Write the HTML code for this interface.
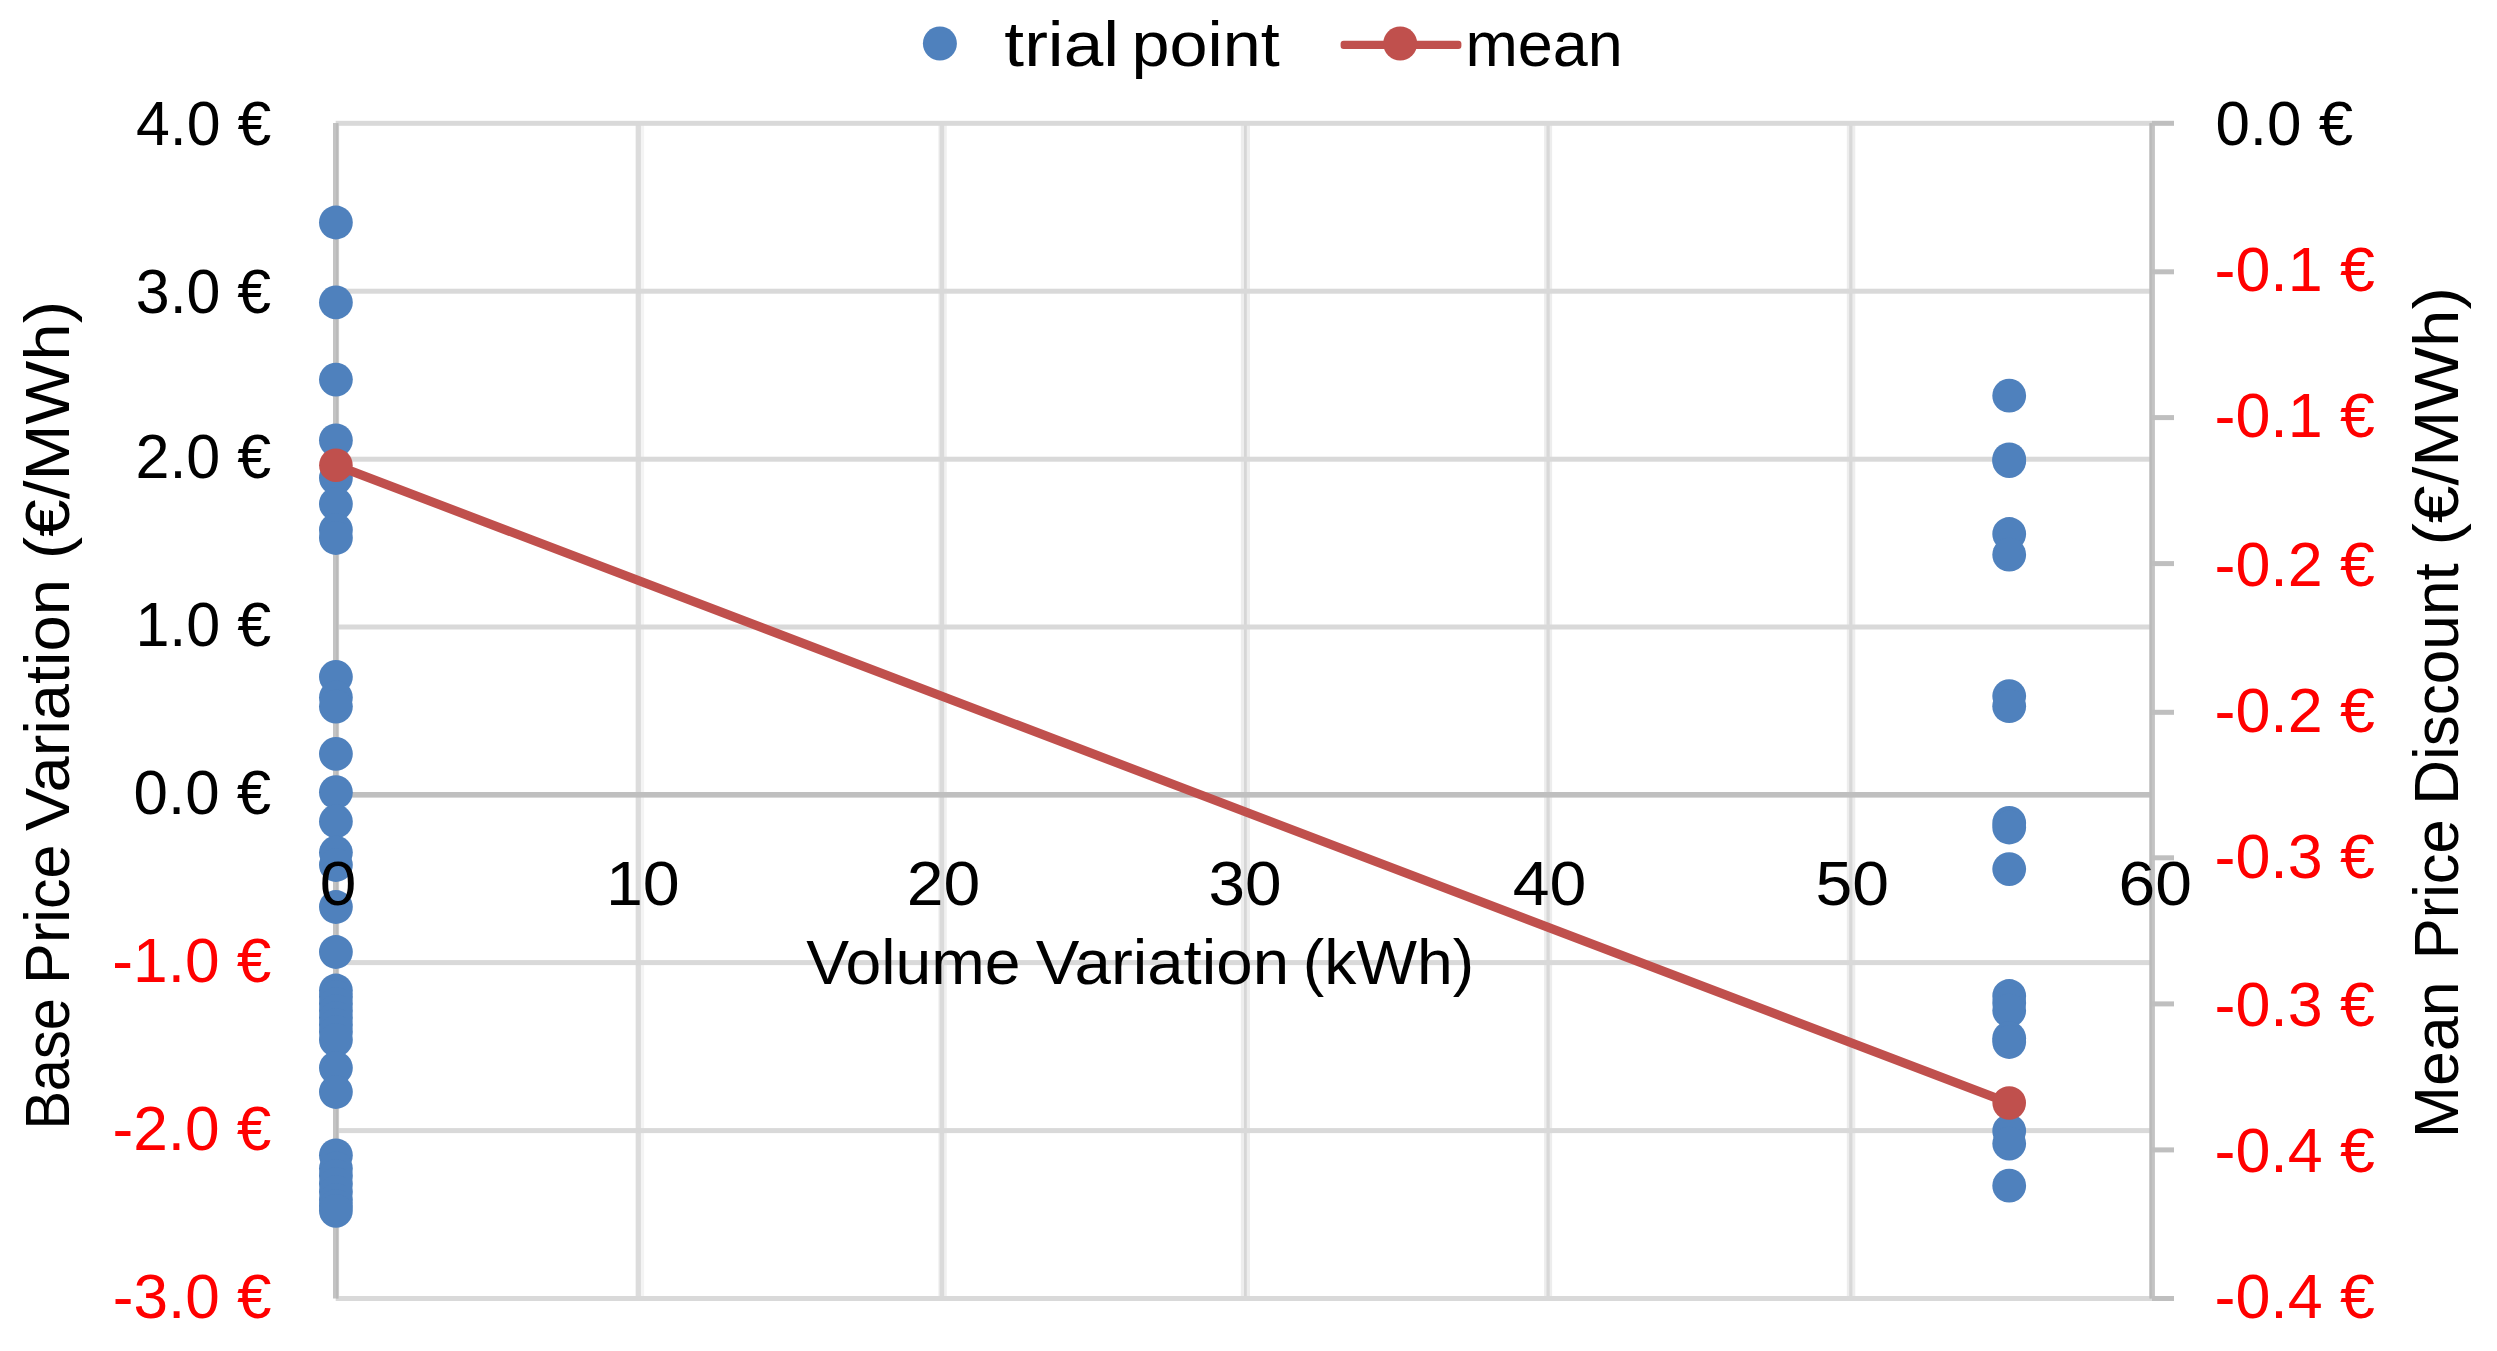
<!DOCTYPE html>
<html lang="en">
<head>
<meta charset="utf-8">
<title>Base Price Variation vs Volume Variation</title>
<style>
html,body{margin:0;padding:0;background:#ffffff;}
body{width:2497px;height:1351px;overflow:hidden;}
svg{display:block;}
text{font-family:"Liberation Sans",sans-serif;font-size:62px;}
.k{fill:#000000;}
.r{fill:#ff0000;}
</style>
</head>
<body>
<svg width="2497" height="1351" viewBox="0 0 2497 1351">
<rect x="0" y="0" width="2497" height="1351" fill="#ffffff"/>
<g id="gridlines">
<rect x="635.7" y="123.3" width="8.4" height="1175.2" fill="#f4f4f4"/>
<rect x="635.7" y="123.3" width="5.2" height="1175.2" fill="#dcdcdc"/>
<rect x="938.3" y="123.3" width="8.5" height="1175.2" fill="#f0f0f0"/>
<rect x="939.6" y="123.3" width="4.5" height="1175.2" fill="#dadada"/>
<rect x="1240.8" y="123.3" width="9.2" height="1175.2" fill="#ededed"/>
<rect x="1244.0" y="123.3" width="2.8" height="1175.2" fill="#d6d6d6"/>
<rect x="1544.1" y="123.3" width="8.0" height="1175.2" fill="#ededed"/>
<rect x="1546.5" y="123.3" width="3.2" height="1175.2" fill="#d8d8d8"/>
<rect x="1846.8" y="123.3" width="8.5" height="1175.2" fill="#ededed"/>
<rect x="1849.2" y="123.3" width="3.2" height="1175.2" fill="#d8d8d8"/>
<rect x="336.2" y="123.3" width="3.0" height="1175.2" fill="#e4e4e4"/>
<rect x="335.7" y="120.8" width="1816.5" height="5.0" fill="#d9d9d9"/>
<rect x="335.7" y="288.7" width="1816.5" height="5.0" fill="#d9d9d9"/>
<rect x="335.7" y="456.7" width="1816.5" height="5.0" fill="#d9d9d9"/>
<rect x="335.7" y="624.5" width="1816.5" height="5.0" fill="#d9d9d9"/>
<rect x="335.7" y="960.1" width="1816.5" height="5.0" fill="#d9d9d9"/>
<rect x="335.7" y="1128.1" width="1816.5" height="5.0" fill="#d9d9d9"/>
<rect x="335.7" y="1296.0" width="1816.5" height="5.0" fill="#d9d9d9"/>
</g>
<g id="axes">
<rect x="335.7" y="792.0" width="1816.5" height="5.6" fill="#bfbfbf"/>
<rect x="333.0" y="123.0" width="5.4" height="1175.5" fill="#c3c3c3"/>
<rect x="2149.5" y="123.0" width="5.4" height="1175.5" fill="#c3c3c3"/>
<rect x="336.2" y="123.3" width="2.2" height="1175.2" fill="#bababa"/>
<rect x="2149.5" y="123.3" width="2.2" height="1175.2" fill="#bababa"/>
<rect x="2152.0" y="120.8" width="22.0" height="5.0" fill="#bfbfbf"/>
<rect x="2152.0" y="269.3" width="22.0" height="5.0" fill="#bfbfbf"/>
<rect x="2152.0" y="415.1" width="22.0" height="5.0" fill="#bfbfbf"/>
<rect x="2152.0" y="561.1" width="22.0" height="5.0" fill="#bfbfbf"/>
<rect x="2152.0" y="709.8" width="22.0" height="5.0" fill="#bfbfbf"/>
<rect x="2152.0" y="855.3" width="22.0" height="5.0" fill="#bfbfbf"/>
<rect x="2152.0" y="1001.4" width="22.0" height="5.0" fill="#bfbfbf"/>
<rect x="2152.0" y="1147.4" width="22.0" height="5.0" fill="#bfbfbf"/>
<rect x="2152.0" y="1296.0" width="22.0" height="5.0" fill="#bfbfbf"/>
</g>
<g id="series-trial-point" fill="#4f81bd">
<circle cx="335.9" cy="222.5" r="16.9"/>
<circle cx="335.9" cy="302.4" r="16.9"/>
<circle cx="335.9" cy="379.6" r="16.9"/>
<circle cx="335.9" cy="440.3" r="16.9"/>
<circle cx="335.9" cy="478.0" r="16.9"/>
<circle cx="335.9" cy="504.0" r="16.9"/>
<circle cx="335.9" cy="530.0" r="16.9"/>
<circle cx="335.9" cy="538.0" r="16.9"/>
<circle cx="335.9" cy="676.9" r="16.9"/>
<circle cx="335.9" cy="697.5" r="16.9"/>
<circle cx="335.9" cy="706.6" r="16.9"/>
<circle cx="335.9" cy="753.9" r="16.9"/>
<circle cx="335.9" cy="792.2" r="16.9"/>
<circle cx="335.9" cy="821.4" r="16.9"/>
<circle cx="335.9" cy="852.6" r="16.9"/>
<circle cx="335.9" cy="865.0" r="16.9"/>
<circle cx="335.9" cy="907.0" r="16.9"/>
<circle cx="335.9" cy="952.0" r="16.9"/>
<circle cx="335.9" cy="990.5" r="16.9"/>
<circle cx="335.9" cy="997.0" r="16.9"/>
<circle cx="335.9" cy="1004.0" r="16.9"/>
<circle cx="335.9" cy="1011.0" r="16.9"/>
<circle cx="335.9" cy="1018.0" r="16.9"/>
<circle cx="335.9" cy="1025.0" r="16.9"/>
<circle cx="335.9" cy="1032.0" r="16.9"/>
<circle cx="335.9" cy="1040.0" r="16.9"/>
<circle cx="335.9" cy="1068.0" r="16.9"/>
<circle cx="335.9" cy="1092.0" r="16.9"/>
<circle cx="335.9" cy="1155.3" r="16.9"/>
<circle cx="335.9" cy="1168.5" r="16.9"/>
<circle cx="335.9" cy="1176.0" r="16.9"/>
<circle cx="335.9" cy="1184.0" r="16.9"/>
<circle cx="335.9" cy="1192.0" r="16.9"/>
<circle cx="335.9" cy="1200.0" r="16.9"/>
<circle cx="335.9" cy="1206.0" r="16.9"/>
<circle cx="335.9" cy="1210.8" r="16.9"/>
<circle cx="2009.2" cy="395.7" r="16.9"/>
<circle cx="2009.2" cy="459.3" r="16.9"/>
<circle cx="2009.2" cy="461.1" r="16.9"/>
<circle cx="2009.2" cy="534.0" r="16.9"/>
<circle cx="2009.2" cy="554.7" r="16.9"/>
<circle cx="2009.2" cy="696.1" r="16.9"/>
<circle cx="2009.2" cy="706.2" r="16.9"/>
<circle cx="2009.2" cy="822.9" r="16.9"/>
<circle cx="2009.2" cy="827.5" r="16.9"/>
<circle cx="2009.2" cy="869.1" r="16.9"/>
<circle cx="2009.2" cy="996.0" r="16.9"/>
<circle cx="2009.2" cy="1003.0" r="16.9"/>
<circle cx="2009.2" cy="1010.6" r="16.9"/>
<circle cx="2009.2" cy="1038.2" r="16.9"/>
<circle cx="2009.2" cy="1042.0" r="16.9"/>
<circle cx="2009.2" cy="1131.0" r="16.9"/>
<circle cx="2009.2" cy="1143.6" r="16.9"/>
<circle cx="2009.2" cy="1185.7" r="16.9"/>
</g>
<g id="series-mean">
<line x1="335.9" y1="465.2" x2="2009.2" y2="1103.0" stroke="#c0504d" stroke-width="9" stroke-linecap="round"/>
<circle cx="335.9" cy="465.2" r="16.8" fill="#c0504d"/>
<circle cx="2009.2" cy="1103.0" r="16.8" fill="#c0504d"/>
</g>
<g id="legend">
<circle cx="939.9" cy="43.5" r="17.0" fill="#4f81bd"/>
<rect x="1340.6" y="40.7" width="120.8" height="8.2" rx="3" fill="#c0504d"/>
<circle cx="1400.2" cy="43.5" r="17.0" fill="#c0504d"/>
</g>
<g id="labels">
<text class="k" font-size="63.6" style="font-size:63.6px" y="65.90"><tspan x="1004.38" textLength="114.69" lengthAdjust="spacingAndGlyphs">trial</tspan> <tspan x="1131.51" textLength="148.27" lengthAdjust="spacingAndGlyphs">point</tspan></text>
<text class="k" font-size="63.6" style="font-size:63.6px" y="65.90"><tspan x="1465.50" textLength="157.27" lengthAdjust="spacingAndGlyphs">mean</tspan></text>
<text class="k" transform="translate(135.98 145.10) scale(0.9810 1.0190)">4.0 €</text>
<text class="k" transform="translate(135.76 313.10) scale(0.9826 1.0190)">3.0 €</text>
<text class="k" transform="translate(135.45 478.10) scale(0.9849 1.0190)">2.0 €</text>
<text class="k" transform="translate(135.41 646.20) scale(0.9852 1.0190)">1.0 €</text>
<text class="k" transform="translate(133.62 813.70) scale(0.9982 1.0190)">0.0 €</text>
<text class="r" transform="translate(112.31 982.00) scale(1.0039 1.0190)">-1.0 €</text>
<text class="r" transform="translate(112.51 1149.80) scale(1.0026 1.0190)">-2.0 €</text>
<text class="r" transform="translate(112.72 1318.10) scale(1.0013 1.0190)">-3.0 €</text>
<text class="k" transform="translate(2215.42 145.25) scale(0.9990 1.0190)">0.0 €</text>
<text class="r" transform="translate(2214.49 291.30) scale(1.0129 1.0190)">-0.1 €</text>
<text class="r" transform="translate(2214.49 437.20) scale(1.0129 1.0190)">-0.1 €</text>
<text class="r" transform="translate(2214.49 586.20) scale(1.0129 1.0190)">-0.2 €</text>
<text class="r" transform="translate(2214.49 731.80) scale(1.0129 1.0190)">-0.2 €</text>
<text class="r" transform="translate(2214.49 877.60) scale(1.0129 1.0190)">-0.3 €</text>
<text class="r" transform="translate(2214.49 1026.30) scale(1.0129 1.0190)">-0.3 €</text>
<text class="r" transform="translate(2214.49 1172.10) scale(1.0129 1.0190)">-0.4 €</text>
<text class="r" transform="translate(2214.49 1318.10) scale(1.0129 1.0190)">-0.4 €</text>
<text class="k" transform="translate(319.67 905.10) scale(1.0618 1.0190)">0</text>
<text class="k" transform="translate(605.89 905.10) scale(1.0704 1.0190)">10</text>
<text class="k" transform="translate(906.70 905.10) scale(1.0658 1.0190)">20</text>
<text class="k" transform="translate(1208.47 905.10) scale(1.0601 1.0190)">30</text>
<text class="k" transform="translate(1512.68 905.10) scale(1.0676 1.0190)">40</text>
<text class="k" transform="translate(1815.56 905.10) scale(1.0664 1.0190)">50</text>
<text class="k" transform="translate(2118.50 905.10) scale(1.0642 1.0190)">60</text>
<text class="k" font-size="63.6" style="font-size:63.6px" y="983.80"><tspan x="806.16" textLength="214.26" lengthAdjust="spacingAndGlyphs">Volume</tspan> <tspan x="1035.75" textLength="253.35" lengthAdjust="spacingAndGlyphs">Variation</tspan> <tspan x="1302.74" textLength="171.51" lengthAdjust="spacingAndGlyphs">(kWh)</tspan></text>
<text class="k" font-size="63.6" style="font-size:63.6px" transform="translate(69.00 0) rotate(-90)" y="0"><tspan x="-1129.61" textLength="131.46" lengthAdjust="spacingAndGlyphs">Base</tspan> <tspan x="-983.90" textLength="139.57" lengthAdjust="spacingAndGlyphs">Price</tspan> <tspan x="-830.95" textLength="251.82" lengthAdjust="spacingAndGlyphs">Variation</tspan> <tspan x="-559.24" textLength="258.40" lengthAdjust="spacingAndGlyphs">(€/MWh)</tspan></text>
<text class="k" font-size="63.6" style="font-size:63.6px" transform="translate(2458.00 0) rotate(-90)" y="0"><tspan x="-1138.32" textLength="156.98" lengthAdjust="spacingAndGlyphs">Mean</tspan> <tspan x="-959.32" textLength="139.99" lengthAdjust="spacingAndGlyphs">Price</tspan> <tspan x="-804.87" textLength="241.53" lengthAdjust="spacingAndGlyphs">Discount</tspan> <tspan x="-545.54" textLength="258.40" lengthAdjust="spacingAndGlyphs">(€/MWh)</tspan></text>
</g>
</svg>
</body>
</html>
